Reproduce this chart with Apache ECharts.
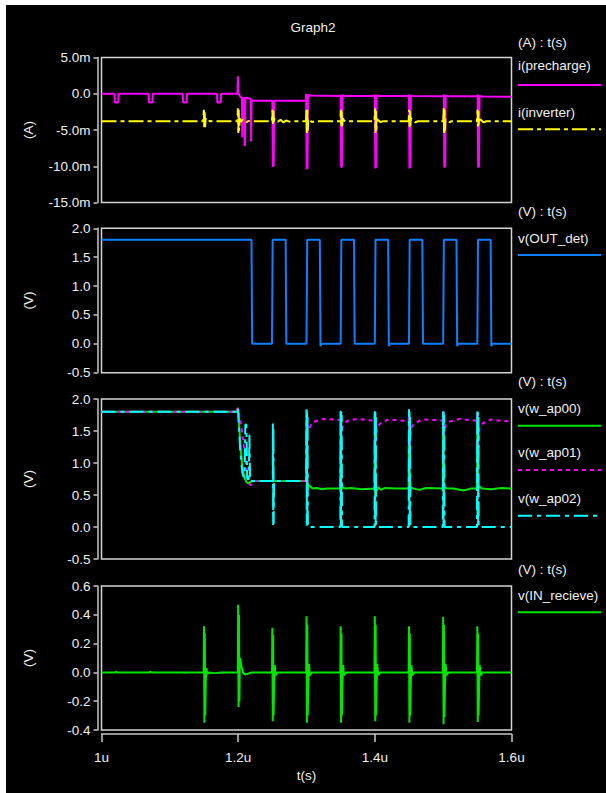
<!DOCTYPE html>
<html>
<head>
<meta charset="utf-8">
<script src="https://cdn.jsdelivr.net/npm/echarts@6/dist/echarts.min.js"></script>
<style>
html,body{margin:0;padding:0;background:#fff;}
#chart{width:606px;height:793px;}
</style>
</head>
<body>
<div id="chart"></div>
<script>
// ---------- DATA (time in microseconds) ----------
const title = 'Graph2';
const xTickLabels = ['1u', '1.2u', '1.4u', '1.6u'];
const xRange = [1.0, 1.6, 0.2];
const panelUnits = ['(A)', '(V)', '(V)', '(V)'];
const panelHeaders = ['(A) : t(s)', '(V) : t(s)', '(V) : t(s)', '(V) : t(s)'];
const yRange1 = [-15, 5, 5];      // mA
const yRange2 = [-0.5, 2.0, 0.5];
const yRange3 = [-0.5, 2.0, 0.5];
const yRange4 = [-0.4, 0.6, 0.2];
const seriesNames = ['i(precharge)', 'i(inverter)', 'v(OUT_det)', 'v(w_ap00)', 'v(w_ap01)', 'v(w_ap02)', 'v(IN_recieve)'];

// i(precharge) in mA
const iPrecharge = [
 [1.0,0],[1.019,0],[1.0195,-1.2],[1.0245,-1.2],[1.025,0],
 [1.069,0],[1.0695,-1.2],[1.0745,-1.2],[1.075,0],
 [1.119,0],[1.1195,-1.2],[1.1245,-1.2],[1.125,0],
 [1.169,0],[1.1695,-1.2],[1.1745,-1.2],[1.175,0],
 [1.199,0],[1.1996,2.4],[1.2002,0.1],[1.203,-0.4],[1.2055,-0.6],[1.206,-6.0],[1.2066,-0.6],[1.209,-0.6],[1.2095,-7.2],[1.2101,-7.0],[1.2106,-0.6],
 [1.213,-0.55],[1.217,-0.7],[1.2185,-0.7],[1.219,-6.6],[1.2196,-0.9],[1.222,-0.95],
 [1.25,-0.95],[1.2507,-10.1],[1.2513,-9.6],[1.252,-10.0],[1.2527,-0.95],
 [1.299,-0.95],[1.2995,0],[1.3002,-10.4],[1.3008,-9.8],[1.3015,-10.3],[1.3022,-0.1],[1.304,-0.25],
 [1.3495,-0.3],[1.35,-0.1],[1.3507,-10.2],[1.3513,-9.6],[1.352,-10.1],[1.3527,-0.2],[1.355,-0.3],
 [1.3995,-0.3],[1.4,-0.1],[1.4007,-10.3],[1.4013,-9.7],[1.402,-10.2],[1.4027,-0.2],[1.405,-0.3],
 [1.4495,-0.32],[1.45,-0.1],[1.4507,-10.3],[1.4513,-9.7],[1.452,-10.2],[1.4527,-0.2],[1.455,-0.32],
 [1.5005,-0.35],[1.501,-0.1],[1.5017,-10.2],[1.5023,-9.6],[1.503,-10.1],[1.5037,-0.2],[1.506,-0.35],
 [1.55,-0.35],[1.5505,-0.1],[1.5512,-10.2],[1.5518,-9.6],[1.5525,-10.1],[1.5532,-0.25],[1.556,-0.38],[1.6,-0.4]
];
// i(inverter) in mA
const iInverter = [
 [1.0,-3.8],[1.149,-3.8],[1.1498,-2.2],[1.1504,-4.9],[1.151,-2.4],[1.1516,-4.6],[1.1524,-3.4],[1.154,-3.7],[1.156,-3.9],[1.158,-3.75],[1.162,-3.8],
 [1.199,-3.8],[1.1996,-2.0],[1.2002,-5.4],[1.2008,-2.2],[1.2014,-5.1],[1.2022,-3.4],[1.204,-3.9],[1.206,-3.6],[1.209,-3.5],[1.212,-3.9],[1.216,-3.75],[1.22,-3.8],
 [1.2495,-3.8],[1.2503,-2.2],[1.2509,-4.3],[1.2515,-2.4],[1.2521,-4.1],[1.2529,-3.4],[1.255,-3.6],[1.258,-3.85],[1.262,-3.6],[1.266,-3.95],[1.27,-3.7],[1.275,-3.85],[1.28,-3.8],
 [1.2993,-3.8],[1.3,-2.0],[1.3006,-5.4],[1.3012,-2.2],[1.3018,-5.1],[1.3026,-3.5],[1.305,-3.7],[1.308,-3.9],[1.312,-3.8],
 [1.3495,-3.8],[1.3503,-2.2],[1.3509,-4.7],[1.3515,-2.4],[1.3521,-4.5],[1.3529,-3.4],[1.355,-3.7],[1.359,-3.9],[1.363,-3.8],
 [1.3995,-3.8],[1.4003,-2.0],[1.4009,-5.4],[1.4015,-2.2],[1.4021,-5.1],[1.4029,-3.5],[1.405,-3.65],[1.408,-3.9],[1.412,-3.8],
 [1.4495,-3.8],[1.4503,-2.2],[1.4509,-4.6],[1.4515,-2.4],[1.4521,-4.4],[1.4529,-3.4],[1.455,-3.7],[1.459,-3.95],[1.463,-3.8],
 [1.5,-3.8],[1.5008,-2.0],[1.5014,-5.4],[1.502,-2.2],[1.5026,-5.1],[1.5034,-3.5],[1.506,-3.6],[1.509,-3.9],[1.513,-3.8],
 [1.5495,-3.8],[1.5503,-2.2],[1.5509,-4.5],[1.5515,-2.4],[1.5521,-4.3],[1.5529,-3.5],[1.555,-3.6],[1.559,-3.95],[1.563,-3.8],
 [1.6,-3.8]
];
// v(OUT_det)
const vOutDet = [
 [1.0,1.8],[1.2195,1.8],[1.2205,0],[1.2495,0],[1.2505,1.8],[1.2695,1.8],[1.2705,0],[1.3,0],[1.301,1.8],
 [1.3195,1.8],[1.3205,-0.04],[1.322,0],[1.35,0],[1.351,1.8],[1.3695,1.8],[1.3705,0],[1.4,0],[1.401,1.8],
 [1.4195,1.8],[1.4205,-0.04],[1.422,0],[1.45,0],[1.451,1.8],[1.4695,1.8],[1.4705,0],[1.5,0],[1.501,1.8],
 [1.5195,1.8],[1.5205,-0.04],[1.522,0],[1.55,0],[1.551,1.8],[1.5695,1.8],[1.5705,-0.04],[1.572,0],[1.6,0]
];
// v(w_ap00)
const vWap00 = [
 [1.0,1.8],[1.198,1.8],[1.1995,1.86],[1.2005,1.75],[1.203,1.3],[1.206,0.95],[1.209,0.78],[1.212,0.7],[1.215,0.68],[1.219,0.71],[1.222,0.72],
 [1.2995,0.72],[1.3,1.75],[1.3008,0.6],[1.302,0.66],[1.305,0.64],[1.309,0.6],[1.315,0.61],[1.322,0.59],[1.33,0.6],[1.34,0.6],
 [1.3495,0.6],[1.35,1.75],[1.3508,0.58],[1.353,0.62],[1.357,0.6],[1.365,0.61],[1.38,0.59],
 [1.3995,0.6],[1.4,1.75],[1.4008,0.5],[1.402,0.55],[1.405,0.62],[1.409,0.58],[1.415,0.61],[1.43,0.6],
 [1.4495,0.6],[1.45,1.75],[1.4508,0.52],[1.453,0.62],[1.457,0.6],[1.465,0.58],[1.475,0.61],
 [1.4995,0.6],[1.5,1.75],[1.5008,0.56],[1.503,0.62],[1.507,0.6],[1.515,0.6],[1.53,0.57],[1.54,0.6],
 [1.5495,0.6],[1.55,1.75],[1.5508,0.58],[1.553,0.63],[1.557,0.6],[1.57,0.59],[1.585,0.61],[1.6,0.6]
];
// v(w_ap01)
const vWap01 = [
 [1.0,1.8],[1.198,1.8],[1.1995,1.86],[1.201,1.78],[1.205,1.55],[1.209,1.2],[1.213,0.85],[1.216,0.68],[1.2185,0.65],[1.221,0.7],[1.224,0.72],
 [1.2995,0.72],[1.3,1.82],[1.3015,1.55],[1.304,1.52],[1.307,1.62],[1.315,1.66],[1.325,1.69],[1.34,1.68],
 [1.3495,1.67],[1.35,1.8],[1.351,1.5],[1.354,1.6],[1.36,1.66],[1.375,1.69],[1.39,1.67],
 [1.3995,1.66],[1.4,1.8],[1.401,1.25],[1.403,1.55],[1.408,1.62],[1.42,1.68],[1.44,1.66],
 [1.4495,1.66],[1.45,1.8],[1.451,1.25],[1.453,1.55],[1.458,1.62],[1.47,1.68],[1.49,1.67],
 [1.4995,1.66],[1.5,1.8],[1.501,1.45],[1.504,1.6],[1.51,1.65],[1.525,1.69],[1.54,1.67],
 [1.5495,1.66],[1.55,1.8],[1.551,1.0],[1.553,1.55],[1.558,1.62],[1.57,1.68],[1.585,1.66],[1.6,1.65]
];
// v(w_ap02)
const vWap02 = [
 [1.0,1.8],[1.198,1.8],[1.1995,1.86],[1.2005,1.7],[1.203,1.2],[1.206,0.85],[1.208,0.78],[1.2095,0.8],[1.2105,1.6],[1.212,1.6],
 [1.2132,0.75],[1.2155,0.75],[1.2165,1.45],[1.2175,0.72],[1.22,0.72],
 [1.2505,0.72],[1.2508,1.62],[1.2512,0.03],[1.2516,1.55],[1.252,0.05],[1.2526,0.72],
 [1.2995,0.72],[1.3,1.84],[1.3004,0.02],[1.3008,1.8],[1.3012,0.01],[1.3016,1.75],[1.302,0],
 [1.3495,0],[1.35,1.84],[1.3504,0.02],[1.3508,1.8],[1.3512,0.01],[1.3516,1.75],[1.352,0],
 [1.3995,0],[1.4,1.84],[1.4004,0.02],[1.4008,1.8],[1.4012,0.01],[1.4016,1.75],[1.402,0],
 [1.4495,0],[1.45,1.84],[1.4504,0.02],[1.4508,1.8],[1.4512,0.01],[1.4516,1.75],[1.452,0],
 [1.4995,0],[1.5,1.84],[1.5004,0.02],[1.5008,1.8],[1.5012,0.01],[1.5016,1.75],[1.502,0],
 [1.5495,0],[1.55,1.84],[1.5504,0.02],[1.5508,1.8],[1.5512,0.01],[1.5516,1.75],[1.552,0],
 [1.6,0]
];
// v(IN_recieve)
const vInRecieve = [
 [1.0,0],[1.02,0],[1.0215,0.006],[1.023,0],[1.07,0],[1.0715,0.005],[1.073,0],[1.12,0],[1.121,-0.004],[1.122,0],
 [1.1495,0],[1.15,0.32],[1.1506,-0.35],[1.1512,0.27],[1.1518,-0.3],[1.1526,-0.06],[1.1535,0.03],[1.155,-0.01],[1.158,0],[1.165,-0.005],[1.175,0],
 [1.1995,0],[1.2,0.47],[1.2006,-0.24],[1.2012,0.4],[1.2018,-0.2],[1.2024,0.1],[1.2032,0.09],[1.205,0.04],[1.207,0.0],[1.21,-0.015],[1.215,-0.008],[1.22,0],
 [1.2495,0],[1.25,0.31],[1.2506,-0.34],[1.2512,0.26],[1.2518,-0.3],[1.2526,-0.1],[1.2535,0.05],[1.255,-0.02],[1.258,0],
 [1.2995,0],[1.3,0.39],[1.3006,-0.35],[1.3012,0.33],[1.3018,-0.3],[1.3026,-0.1],[1.3035,0.06],[1.305,-0.02],[1.308,0],
 [1.3495,0],[1.35,0.32],[1.3506,-0.35],[1.3512,0.27],[1.3518,-0.3],[1.3526,-0.08],[1.3535,0.05],[1.355,-0.02],[1.358,0],
 [1.3995,0],[1.4,0.39],[1.4006,-0.34],[1.4012,0.33],[1.4018,-0.3],[1.4026,-0.1],[1.4035,0.06],[1.405,-0.02],[1.408,0],
 [1.4495,0],[1.45,0.32],[1.4506,-0.35],[1.4512,0.27],[1.4518,-0.3],[1.4526,-0.08],[1.4535,0.05],[1.455,-0.02],[1.458,0],
 [1.4995,0],[1.5,0.385],[1.5006,-0.36],[1.5012,0.33],[1.5018,-0.31],[1.5026,-0.12],[1.5035,0.06],[1.505,-0.02],[1.508,0],
 [1.5495,0],[1.55,0.32],[1.5506,-0.345],[1.5512,0.27],[1.5518,-0.3],[1.5526,-0.1],[1.5535,0.05],[1.555,-0.02],[1.558,0],
 [1.6,0]
];

// ---------- STYLE / LAYOUT ----------
const FONT = '"Liberation Sans", Arial, Helvetica, sans-serif';
const FS = 13.5;
const TXT = '#f0f0f0';
const AX = '#c8c8c8';
const colors = ['#ff00ff', '#ffff00', '#0f7fff', '#00e600', '#ff00ff', '#00ffff', '#00e600'];
const dashes = ['solid', [15, 4, 4, 4], 'solid', 'solid', [4, 4], [14, 5, 4, 5], 'solid'];
const grids = [
  {left: 101.5, width: 410, top: 57.5, height: 145},
  {left: 101.5, width: 410, top: 228.3, height: 144.4},
  {left: 101.5, width: 410, top: 399, height: 160},
  {left: 101.5, width: 410, top: 586, height: 144}
];
const yRanges = [yRange1, yRange2, yRange3, yRange4];

const gridOpts = grids.map(g => Object.assign({}, g, {
  show: true, borderColor: '#d4d4d4', borderWidth: 1.5, backgroundColor: '#000', containLabel: false
}));

const xAxes = grids.map((g, i) => {
  const last = i === grids.length - 1;
  return {
    type: 'value', gridIndex: i, min: xRange[0], max: xRange[1], interval: xRange[2],
    show: last, position: 'bottom', offset: 4,
    name: last ? 't(s)' : '', nameLocation: 'middle', nameGap: 34,
    nameTextStyle: {color: TXT, fontSize: FS, fontFamily: FONT},
    axisLine: {show: true, onZero: false, lineStyle: {color: AX, width: 1.5}},
    axisTick: {show: true, length: 8, lineStyle: {color: AX, width: 1.5}},
    axisLabel: {
      color: TXT, fontSize: FS, fontFamily: FONT, margin: 16,
      formatter: v => {
        const k = Math.round((v - xRange[0]) / xRange[2]);
        return xTickLabels[k] !== undefined ? xTickLabels[k] : '';
      }
    },
    splitLine: {show: false}
  };
});

const yAxes = grids.map((g, i) => ({
  type: 'value', gridIndex: i, min: yRanges[i][0], max: yRanges[i][1], interval: yRanges[i][2],
  position: 'left', offset: 4,
  name: panelUnits[i], nameLocation: 'middle', nameGap: 62,
  nameTextStyle: {color: TXT, fontSize: FS, fontFamily: FONT},
  axisLine: {show: true, onZero: false, lineStyle: {color: AX, width: 1.5}},
  axisTick: {show: true, length: 4, lineStyle: {color: AX, width: 1.5}},
  axisLabel: {
    color: TXT, fontSize: FS, fontFamily: FONT, margin: 7,
    formatter: i === 0
      ? (v => Math.abs(v) < 1e-9 ? '0.0' : v.toFixed(1) + 'm')
      : (v => (Math.abs(v) < 1e-9 ? 0 : v).toFixed(1))
  },
  splitLine: {show: false}
}));

const seriesData = [iPrecharge, iInverter, vOutDet, vWap00, vWap01, vWap02, vInRecieve];
const seriesPanel = [0, 0, 1, 2, 2, 2, 3];
const series = seriesData.map((d, k) => ({
  type: 'line', name: seriesNames[k], data: d,
  xAxisIndex: seriesPanel[k], yAxisIndex: seriesPanel[k],
  showSymbol: false, symbol: 'none', animation: false, clip: true,
  lineStyle: {color: colors[k], width: 2, type: dashes[k]},
  itemStyle: {color: colors[k]},
  z: 2 + k
}));

// legend drawn beside each panel (header, name, sample line)
const legendLayout = [
  {header: 42.7, items: [[0, 65.7, 85], [1, 112.7, 129.3]]},
  {header: 211.7, items: [[2, 238.3, 255]]},
  {header: 381.7, items: [[3, 408.3, 425.7], [4, 452.7, 470], [5, 498.3, 515.7]]},
  {header: 569.3, items: [[6, 595, 612.3]]}
];
const graphics = [
  {type: 'rect', shape: {x: 0, y: 0, width: 606, height: 5}, style: {fill: '#fff'}, z: 100},
  {type: 'rect', shape: {x: 0, y: 0, width: 6, height: 793}, style: {fill: '#fff'}, z: 100}
];
legendLayout.forEach((p, i) => {
  graphics.push({type: 'text', x: 518, y: p.header, style: {text: panelHeaders[i], fill: TXT, font: FS + 'px ' + FONT, textVerticalAlign: 'middle', verticalAlign: 'middle'}});
  p.items.forEach(([k, ty, ly]) => {
    graphics.push({type: 'text', x: 518, y: ty, style: {text: seriesNames[k], fill: TXT, font: FS + 'px ' + FONT, textVerticalAlign: 'middle', verticalAlign: 'middle'}});
    graphics.push({type: 'line', shape: {x1: 518, y1: ly, x2: 601, y2: ly},
      style: {stroke: colors[k], lineWidth: 2, lineDash: Array.isArray(dashes[k]) ? dashes[k] : null}});
  });
});

const chart = echarts.init(document.getElementById('chart'), null, {renderer: 'svg'});
chart.setOption({
  backgroundColor: '#000',
  animation: false,
  title: {text: title, left: 308, top: 15, textAlign: 'center',
    textStyle: {color: TXT, fontSize: FS, fontWeight: 'normal', fontFamily: FONT}},
  grid: gridOpts,
  xAxis: xAxes,
  yAxis: yAxes,
  series: series,
  graphic: graphics
});
</script>
</body>
</html>
